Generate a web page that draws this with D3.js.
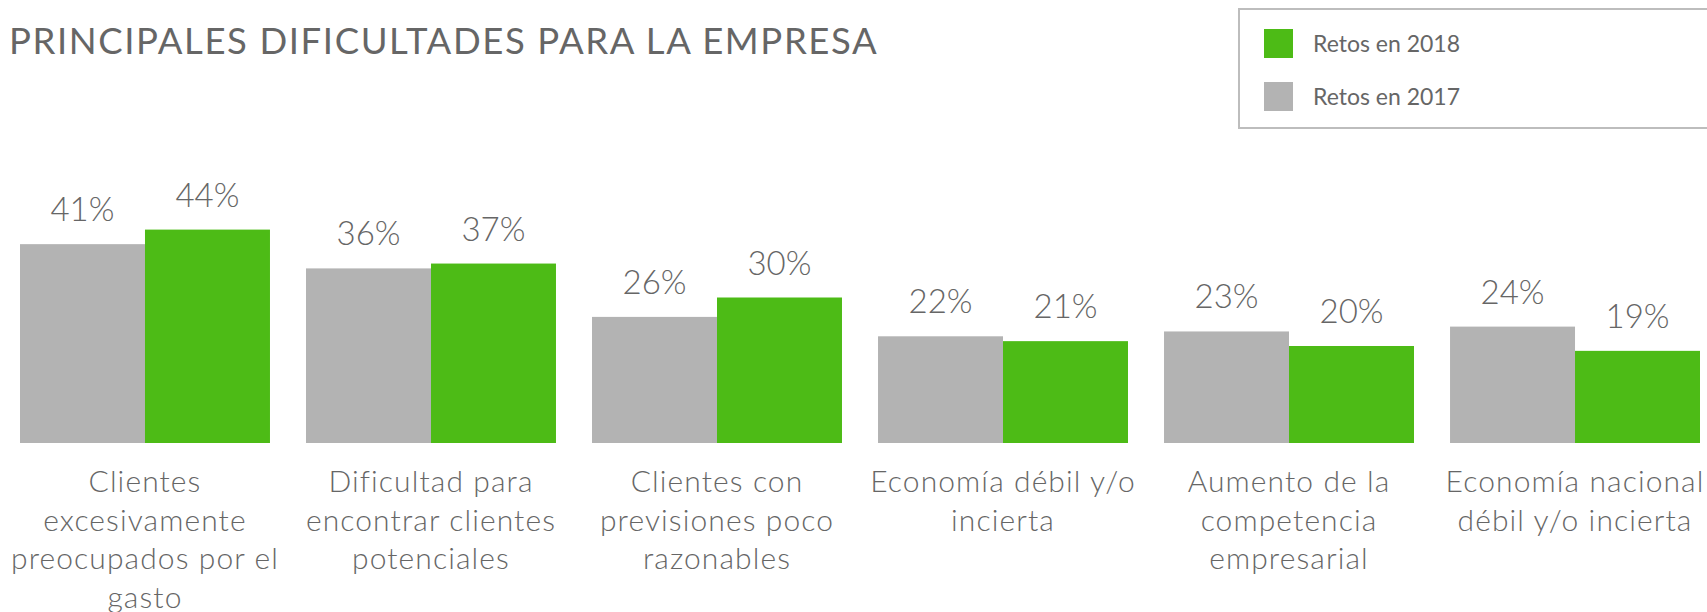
<html>
    <head>
        <meta charset="utf-8">
        <style>
            body { margin: 0; background: #fff; }
            text { font-family: Lato, "Open Sans", sans-serif; font-weight: 300; fill: #666; }
        </style>
    </head>
    <body>
        <script src="https://d3js.org/d3.v7.min.js"></script>
        <svg id="chart" width="1707" height="612"></svg>

        <script type='text/JavaScript'>
            // categories (already broken into lines as in the picture)
            var categories = [
                ["Clientes", "excesivamente", "preocupados por el", "gasto"],
                ["Dificultad para", "encontrar clientes", "potenciales"],
                ["Clientes con", "previsiones poco", "razonables"],
                ["Economía débil y/o", "incierta"],
                ["Aumento de la", "competencia", "empresarial"],
                ["Economía nacional", "débil y/o incierta"]
            ];
            var retos2017 = [0.41, 0.36, 0.26, 0.22, 0.23, 0.24];
            var retos2018 = [0.44, 0.37, 0.30, 0.21, 0.20, 0.19];
            var seriesNames = ["Retos en 2017", "Retos en 2018"];
            var legendOrder = ["Retos en 2018", "Retos en 2017"];

            var svg = d3.select("#chart");

            var colorScale = d3.scaleOrdinal()
                .domain(seriesNames)
                .range(["#b3b3b3", "#4dbb16"]);

            var xScale = d3.scaleBand()
                .domain(d3.range(categories.length))
                .range([20, 1700])
                .paddingInner(0.126)
                .paddingOuter(0);

            var xInner = d3.scaleBand()
                .domain(seriesNames)
                .range([0, xScale.bandwidth()]);

            var yScale = d3.scaleLinear().domain([0, 1]).range([443, 443 - 485]);

            var rows = categories.map((c, i) => ({
                i: i,
                values: [
                    {key: seriesNames[0], value: retos2017[i]},
                    {key: seriesNames[1], value: retos2018[i]}
                ]
            }));

            // title
            svg.append("text")
                .attr("x", 9)
                .attr("y", 54)
                .style("font-size", "36.5px")
                .style("font-weight", 400)
                .style("letter-spacing", "1.6px")
                .text("PRINCIPALES DIFICULTADES PARA LA EMPRESA");

            var groups = svg.selectAll(".group")
                .data(rows)
                .join("g")
                .attr("class", "group")
                .attr("transform", (d) => "translate(" + xScale(d.i) + ",0)");

            groups.selectAll("rect")
                .data((d) => d.values)
                .join("rect")
                .attr("x", (d) => xInner(d.key))
                .attr("y", (d) => yScale(d.value))
                .attr("width", xInner.bandwidth())
                .attr("height", (d) => yScale(0) - yScale(d.value))
                .attr("fill", (d) => colorScale(d.key));

            groups.selectAll(".val")
                .data((d) => d.values)
                .join("text")
                .attr("class", "val")
                .attr("x", (d) => xInner(d.key) + xInner.bandwidth() / 2)
                .attr("y", (d) => yScale(d.value) - 23)
                .attr("text-anchor", "middle")
                .style("font-size", "33px")
                .text((d) => d3.format(".0%")(d.value));

            // category labels
            groups.append("text")
                .attr("text-anchor", "middle")
                .style("font-size", "30px")
                .style("letter-spacing", "1.1px")
                .selectAll("tspan")
                .data((d) => categories[d.i])
                .join("tspan")
                .attr("x", xScale.bandwidth() / 2)
                .attr("y", (d, j) => 492 + j * 38.7)
                .text((d) => d);

            // legend
            var legend = svg.append("g");
            legend.append("rect")
                .attr("x", 1239)
                .attr("y", 9)
                .attr("width", 480)
                .attr("height", 119)
                .attr("fill", "none")
                .attr("stroke", "#bdbdbd")
                .attr("stroke-width", 2);

            var items = legend.selectAll(".item")
                .data(legendOrder)
                .join("g")
                .attr("class", "item")
                .attr("transform", (d, i) => "translate(1264," + (29 + i * 53) + ")");

            items.append("rect")
                .attr("width", 29)
                .attr("height", 29)
                .attr("fill", (d) => colorScale(d));

            items.append("text")
                .attr("x", 49)
                .attr("y", 23)
                .style("font-size", "23px")
                .style("font-weight", 400)
                .text((d) => d);
        </script>
    </body>
</html>
